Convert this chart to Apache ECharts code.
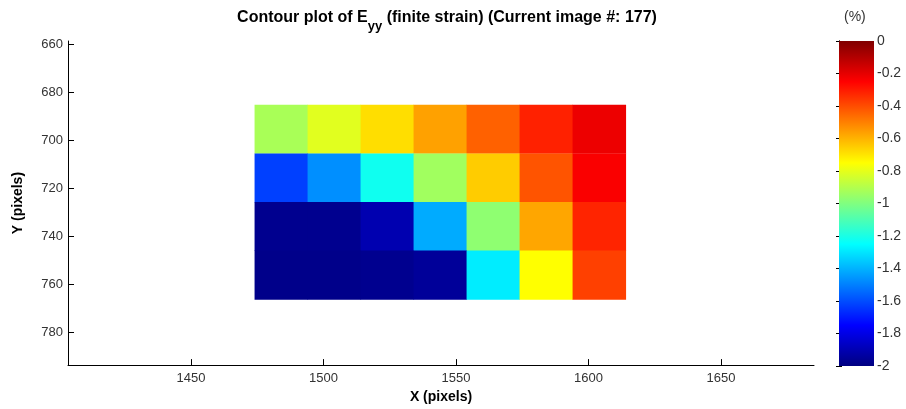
<!DOCTYPE html>
<html>
<head>
<meta charset="utf-8">
<script src="https://cdn.jsdelivr.net/npm/echarts@6/dist/echarts.min.js"></script>
<style>
  html, body { margin: 0; padding: 0; background: #fff; }
  #chart { width: 906px; height: 409px; }
</style>
</head>
<body>
<div id="chart"></div>
<script>
// Grid cell centres (pixels) and Eyy strain (%) per row, top to bottom
const xCentres = [1484, 1504, 1524, 1544, 1564, 1584, 1604];
const yCentres = [695.3, 715.6, 735.8, 756.1];
const eyyRow1 = [-0.92, -0.81, -0.685, -0.565, -0.44, -0.315, -0.215];
const eyyRow2 = [-1.625, -1.47, -1.22, -0.935, -0.65, -0.415, -0.24];
const eyyRow3 = [-1.97, -1.97, -1.905, -1.415, -0.97, -0.575, -0.32];
const eyyRow4 = [-1.98, -1.98, -1.97, -1.95, -1.285, -0.75, -0.375];
const eyyRows = [eyyRow1, eyyRow2, eyyRow3, eyyRow4];

// Axis ticks
const xTicks = [1450, 1500, 1550, 1600, 1650];
const yTicks = [660, 680, 700, 720, 740, 760, 780];
const colorRange = [-2, 0];

// Cell size in data units
const CELL_W = 20;
const CELL_H = 20.25;

// MATLAB "jet" colormap, evenly spaced stops
const jet = ['#000080', '#0000ff', '#0080ff', '#00ffff', '#80ff80',
             '#ffff00', '#ff8000', '#ff0000', '#800000'];

const cells = [];
eyyRows.forEach((row, r) => {
  row.forEach((v, c) => cells.push([xCentres[c], yCentres[r], v]));
});

const FONT = "'Liberation Sans', Arial, sans-serif";
const chart = echarts.init(document.getElementById('chart'));

chart.setOption({
  backgroundColor: '#fff',
  animation: false,
  textStyle: { fontFamily: FONT },
  title: {
    left: 442, top: 5, textAlign: 'center',
    text: '{a|Contour plot of E}{s|yy}{a| (finite strain) (Current image #: 177)}',
    textStyle: {
      rich: {
        a: { fontFamily: FONT, fontSize: 16, fontWeight: 'bold', color: '#000', lineHeight: 19, verticalAlign: 'top' },
        s: { fontFamily: FONT, fontSize: 13, fontWeight: 'bold', color: '#000', lineHeight: 19, padding: [10, 0, 0, 0], verticalAlign: 'top' }
      }
    }
  },
  graphic: [{
    type: 'text', left: 844, top: 10,
    style: { text: '(%)', font: '14px ' + FONT, fill: '#333' }
  }],
  grid: [
    { left: 68, top: 41, width: 746, height: 325, containLabel: false },
    { left: 839, top: 41, width: 35, height: 325, containLabel: false }
  ],
  xAxis: [{
    type: 'value', gridIndex: 0, min: 1403.6, max: 1685.1,
    name: 'X (pixels)', nameLocation: 'middle', nameGap: 22,
    nameTextStyle: { fontFamily: FONT, fontSize: 14, fontWeight: 'bold', color: '#000' },
    axisLine: { show: true, lineStyle: { color: '#000', width: 1 } },
    axisTick: { show: true, inside: true, length: 6, customValues: xTicks, lineStyle: { color: '#000' } },
    axisLabel: { customValues: xTicks, margin: 7, fontSize: 13, color: '#333', fontFamily: FONT, formatter: v => String(v) },
    splitLine: { show: false }
  }, {
    type: 'value', gridIndex: 1, min: 0, max: 1, show: false
  }],
  yAxis: [{
    type: 'value', gridIndex: 0, inverse: true, min: 658.6, max: 793.7,
    name: 'Y (pixels)', nameLocation: 'middle', nameGap: 43,
    nameTextStyle: { fontFamily: FONT, fontSize: 14, fontWeight: 'bold', color: '#000' },
    axisLine: { show: true, lineStyle: { color: '#000', width: 1 } },
    axisTick: { show: true, inside: true, length: 6, customValues: yTicks, lineStyle: { color: '#000' } },
    axisLabel: { customValues: yTicks, margin: 5, fontSize: 13, color: '#333', fontFamily: FONT, formatter: v => String(v) },
    splitLine: { show: false }
  }, {
    type: 'value', gridIndex: 1, position: 'right', min: colorRange[0], max: colorRange[1], interval: 0.2,
    axisLine: { show: true, lineStyle: { color: '#000', width: 1 } },
    axisTick: { show: true, inside: true, length: 3, lineStyle: { color: '#000' } },
    axisLabel: {
      margin: 3, fontSize: 14, color: '#333', fontFamily: FONT,
      formatter: v => String(Math.round(v * 10) / 10)
    },
    splitLine: { show: false }
  }, {
    type: 'value', gridIndex: 1, position: 'left', min: colorRange[0], max: colorRange[1], interval: 0.2,
    axisLine: { show: true, lineStyle: { color: '#000', width: 1 } },
    axisTick: { show: true, inside: true, length: 3, lineStyle: { color: '#000' } },
    axisLabel: { show: false },
    splitLine: { show: false }
  }],
  visualMap: {
    show: false, type: 'continuous', seriesIndex: 0, dimension: 2,
    min: colorRange[0], max: colorRange[1], inRange: { color: jet }
  },
  series: [{
    // strain cells
    type: 'custom', xAxisIndex: 0, yAxisIndex: 0,
    data: cells,
    renderItem: (params, api) => {
      const x = api.value(0), y = api.value(1);
      const p0 = api.coord([x - CELL_W / 2, y - CELL_H / 2]);
      const p1 = api.coord([x + CELL_W / 2, y + CELL_H / 2]);
      return {
        type: 'rect',
        shape: {
          x: Math.min(p0[0], p1[0]), y: Math.min(p0[1], p1[1]),
          width: Math.abs(p1[0] - p0[0]) + 0.5, height: Math.abs(p1[1] - p0[1]) + 0.5
        },
        style: { fill: api.visual('color') }
      };
    }
  }, {
    // colour bar
    type: 'custom', xAxisIndex: 1, yAxisIndex: 1,
    data: [[0, colorRange[0], 1, colorRange[1]]],
    renderItem: (params, api) => {
      const p0 = api.coord([api.value(0), api.value(1)]);
      const p1 = api.coord([api.value(2), api.value(3)]);
      const stops = jet.map((c, i) => ({ offset: i / (jet.length - 1), color: c }));
      return {
        type: 'rect',
        shape: { x: p0[0], y: p1[1], width: p1[0] - p0[0], height: p0[1] - p1[1] },
        style: { fill: new echarts.graphic.LinearGradient(0, 1, 0, 0, stops) }
      };
    }
  }]
});
</script>
</body>
</html>
